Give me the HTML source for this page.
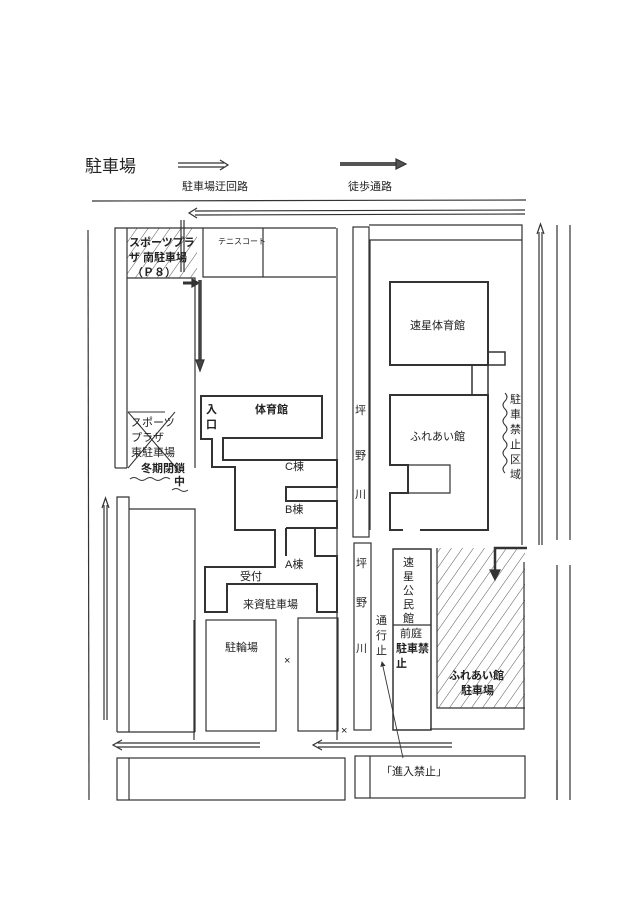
<!DOCTYPE html>
<html><head><meta charset="utf-8"><style>
html,body{margin:0;padding:0;background:#fff}
svg{display:block}
text{font-family:"Liberation Sans","Noto Sans CJK JP",sans-serif;fill:#222;font-size:11px}
.b{font-weight:bold}
</style></head><body>
<svg width="640" height="905" viewBox="0 0 640 905" xmlns="http://www.w3.org/2000/svg">
<defs>
<pattern id="h" width="9" height="9" patternUnits="userSpaceOnUse" patternTransform="rotate(35)">
<line x1="0" y1="0" x2="0" y2="9" stroke="#444" stroke-width="0.9"/>
</pattern>
<marker id="ah" markerWidth="6" markerHeight="6" refX="5" refY="3" orient="auto"><path d="M0,0 L6,3 L0,6 Z" fill="#333"/></marker>
</defs>
<g stroke="#333" stroke-width="1.2" fill="none">
<line x1="178" y1="163" x2="224" y2="163"/><line x1="178" y1="167" x2="224" y2="167"/>
<path d="M220,160 L228,165 L220,170"/>
<line x1="340" y1="164" x2="398" y2="164" stroke="#555" stroke-width="4"/>
<path d="M396,159 L406,164 L396,169 Z" fill="#555"/>
<line x1="92" y1="201" x2="526" y2="200"/>
<line x1="195" y1="211" x2="525" y2="210"/><line x1="195" y1="215" x2="525" y2="214"/>
<path d="M197,208 L189,213 L197,218"/>
<line x1="88" y1="230" x2="89" y2="800"/>
<rect x="127" y="228" width="70" height="50" fill="url(#h)" stroke="none"/>
<path d="M115,468 V228 H336"/>
<line x1="127" y1="228" x2="127" y2="468"/>
<path d="M127,278 H195 V468"/>
<path d="M115,468 H127"/>
<line x1="128" y1="412" x2="178" y2="470" stroke-width="1"/>
<line x1="175" y1="412" x2="128" y2="468" stroke-width="1"/>
<line x1="128" y1="412" x2="165" y2="412" stroke-width="1"/>
<path d="M203,228 V277 H336"/><line x1="263" y1="228" x2="263" y2="277"/>
<line x1="181" y1="220" x2="181" y2="272"/><line x1="184" y1="220" x2="184" y2="272"/>
<line x1="183" y1="283" x2="193" y2="283" stroke-width="3"/>
<path d="M192,279 L199,283 L192,287 Z" fill="#333"/>
<line x1="200" y1="280" x2="200" y2="362" stroke="#444" stroke-width="3.5"/>
<path d="M196,360 L200,371 L204,360 Z" fill="#444"/>
<line x1="337" y1="228" x2="337" y2="740"/>
<path d="M201,396 H322 V438 H223 V460 H337 V487 H286 V501 H337 V528 H315 V556 H337 V612 H317 V584 H227 V612 H205 V567 H275 V530 H235 V467 H212 V439 H201 Z" stroke-width="2"/>
<path d="M286,528 V556 M286,528 H315" stroke-width="2"/>
<rect x="353" y="227" width="16" height="310"/>
<rect x="354" y="543" width="17" height="187"/>
<path d="M369,225 H522 V545"/><line x1="369" y1="240" x2="522" y2="240"/>
<line x1="370" y1="240" x2="370" y2="530"/>
<rect x="390" y="282" width="98" height="83" stroke-width="2"/>
<path d="M488,352 H505 V365 H488" stroke-width="1.5"/>
<path d="M472,365 V395 M488,365 V395" stroke-width="1.5"/>
<path d="M403,530 H390 V493 H408 V465 H390 V395 H488 V530 H420" stroke-width="2"/>
<path d="M408,465 H450 V493 H408" stroke-width="1.2"/>
<path d="M505,393 q4,4 0,8 q-4,4 0,8 q4,4 0,8 q-4,4 0,8 q4,4 0,8 q-4,4 0,8 q4,4 0,8 q-4,4 0,8 q4,4 0,8 q-4,4 0,8" stroke-width="1"/>
<line x1="539" y1="545" x2="539" y2="232"/><line x1="542" y1="545" x2="542" y2="232"/>
<path d="M537,234 L540.5,224 L544,234"/>
<path d="M557,225 V540 M570,225 V540"/>
<path d="M557,565 V800 M570,565 V800"/>
<path d="M527,548 H495 V572" stroke-width="2.5"/>
<path d="M490,570 L495,580 L500,570 Z" fill="#333"/>
<rect x="437" y="548" width="88" height="160" fill="url(#h)" stroke="none"/>
<path d="M437,548 V708 H525"/>
<path d="M524,562 V729 H430"/>
<rect x="393" y="549" width="38" height="181" stroke-width="1.5"/>
<line x1="393" y1="625" x2="431" y2="625"/>
<path d="M117,732 V497 H129 V732 M129,509 H195 V732 M117,732 H195"/>
<line x1="104" y1="720" x2="104" y2="505"/><line x1="107" y1="720" x2="107" y2="505"/>
<path d="M102,508 L105.5,498 L109,508"/>
<rect x="206" y="620" width="70" height="111"/>
<rect x="298" y="618" width="40" height="113"/>
<line x1="194" y1="620" x2="194" y2="740"/>
<line x1="117" y1="743" x2="260" y2="743"/><line x1="117" y1="747" x2="260" y2="747"/>
<path d="M122,740 L113,745 L122,750"/>
<line x1="318" y1="743" x2="452" y2="743"/><line x1="318" y1="747" x2="452" y2="747"/>
<path d="M322,740 L313,745 L322,750"/>
<rect x="117" y="758" width="228" height="42"/><line x1="129" y1="758" x2="129" y2="800"/>
<rect x="355" y="756" width="170" height="42"/><line x1="370" y1="756" x2="370" y2="798"/>
<line x1="557" y1="760" x2="557" y2="800"/>
<path d="M403,758 L382,662" stroke-width="0.9" marker-end="url(#ah)"/>
<path d="M130,479 q4,-3 8,0 q4,3 8,0 q4,-3 8,0 q4,3 8,0 q4,-3 8,0" stroke-width="1"/>
<path d="M172,490 q4,-3 8,0 q4,3 8,0" stroke-width="1"/>
</g>
<text x="85" y="172" style="font-size:17px">駐車場</text>
<text x="182" y="190">駐車場迂回路</text>
<text x="348" y="190">徒歩通路</text>
<text x="129" y="246" class="b" style="font-size:11px">スポーツプラ</text>
<text x="129" y="261" class="b" style="font-size:11px">ザ 南駐車場</text>
<text x="132" y="276" class="b" style="font-size:11px">（Ｐ８）</text>
<text x="218" y="244" style="font-size:8px">テニスコート</text>
<text x="131" y="426">スポーツ</text>
<text x="131" y="441">プラザ</text>
<text x="131" y="456">東駐車場</text>
<text x="141" y="472" class="b">冬期閉鎖</text>
<text x="174" y="485" class="b">中</text>
<text x="206" y="413" class="b">入</text>
<text x="206" y="428" class="b">口</text>
<text x="255" y="413" class="b">体育館</text>
<text x="285" y="470">C棟</text>
<text x="285" y="513">B棟</text>
<text x="285" y="568">A棟</text>
<text x="240" y="580">受付</text>
<text x="243" y="608">来資駐車場</text>
<text x="225" y="651">駐輪場</text>
<text x="284" y="664">×</text>
<text x="341" y="734">×</text>
<text x="355" y="414">坪</text><text x="355" y="459">野</text><text x="355" y="498">川</text>
<text x="356" y="567">坪</text><text x="356" y="606">野</text><text x="356" y="652">川</text>
<text x="376" y="624">通</text><text x="376" y="639">行</text><text x="376" y="654">止</text>
<text x="403" y="566">速</text><text x="403" y="580">星</text><text x="403" y="594">公</text><text x="403" y="608">民</text><text x="403" y="622">館</text>
<text x="400" y="637">前庭</text>
<text x="396" y="652" class="b">駐車禁</text>
<text x="396" y="667" class="b">止</text>
<text x="410" y="329">速星体育館</text>
<text x="410" y="440">ふれあい館</text>
<text x="510" y="403">駐</text><text x="510" y="418">車</text><text x="510" y="433">禁</text><text x="510" y="448">止</text><text x="510" y="463">区</text><text x="510" y="478">域</text>
<text x="449" y="679" class="b">ふれあい館</text>
<text x="461" y="694" class="b">駐車場</text>
<text x="381" y="775">「進入禁止」</text>
</svg>
</body></html>
